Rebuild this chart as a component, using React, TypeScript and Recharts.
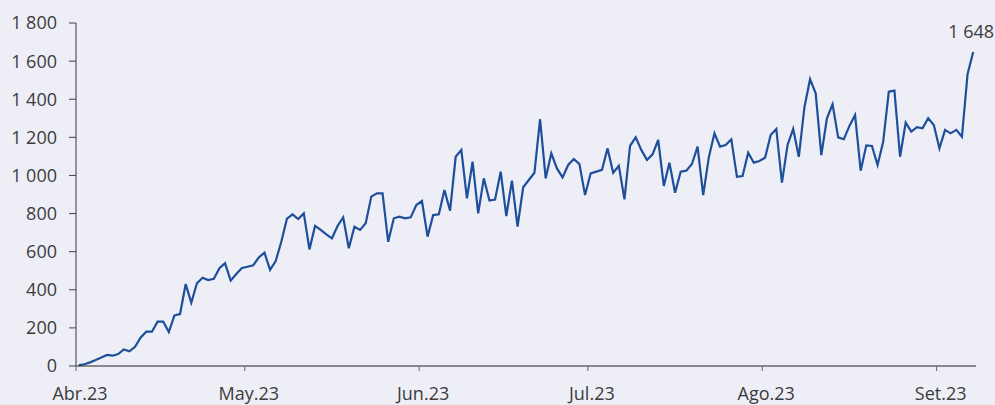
import { LineChart, Line, XAxis, YAxis } from 'recharts';

// daily values, 1 Apr 2023 → 7 Sep 2023
const values = [
  5, 9, 19, 31, 45, 58, 54, 63, 87, 77,
  101, 150, 180, 180, 233, 233, 178, 266, 273, 430,
  332, 434, 463, 451, 458, 513, 539, 448, 483, 514,
  521, 528, 570, 595, 504, 551, 652, 773, 796, 771,
  801, 612, 735, 714, 691, 670, 735, 780, 618, 731,
  714, 749, 889, 906, 906, 652, 775, 784, 775, 780,
  845, 866, 679, 792, 796, 924, 815, 1098, 1134, 880,
  1072, 801, 985, 868, 873, 1020, 787, 973, 731, 938,
  976, 1014, 1295, 985, 1116, 1037, 990, 1055, 1086, 1060,
  897, 1011, 1020, 1029, 1142, 1014, 1050, 875, 1155, 1200,
  1134, 1081, 1111, 1186, 945, 1067, 909, 1020, 1025, 1060,
  1151, 897, 1095, 1221, 1151, 1160, 1190, 993, 997, 1119,
  1067, 1076, 1093, 1212, 1244, 962, 1160, 1244, 1098, 1358,
  1505, 1431, 1107, 1300, 1373, 1200, 1190, 1260, 1317, 1025,
  1158, 1155, 1055, 1177, 1440, 1445, 1098, 1277, 1230, 1253,
  1247, 1300, 1265, 1142, 1239, 1221, 1239, 1203, 1532, 1648,
];

const monthStartDays = [0, 30, 61, 91, 122, 153];
const monthLabels = ['Abr.23', 'May.23', 'Jun.23', 'Jul.23', 'Ago.23', 'Set.23'];
const yTicks = [0, 200, 400, 600, 800, 1000, 1200, 1400, 1600, 1800];

const data = values.map((v, i) => ({ day: i + 0.5, value: v }));

const fmt = (v: number) => String(v).replace(/\B(?=(\d{3})+(?!\d))/g, ' ');

const FONT = '"Open Sans", sans-serif';
const TEXT = '#3c3c3c';
const FS = 18;

function MonthTick(props: any) {
  const { x, y, payload } = props;
  const idx = monthStartDays.indexOf(payload.value);
  return (
    <text x={x + 4} y={y + 27} textAnchor="middle" fill={TEXT} fontSize={FS} fontFamily={FONT}>
      {monthLabels[idx]}
    </text>
  );
}

function LastLabel(props: any) {
  const { x, y, index } = props;
  if (index !== values.length - 1) return null;
  return (
    <text x={x - 2} y={y - 14} textAnchor="middle" fill={TEXT} fontSize={FS} fontFamily={FONT}>
      {fmt(values[values.length - 1])}
    </text>
  );
}

export default function App() {
  return (
    <div style={{ position: 'absolute', left: 0, top: 0, width: 995, height: 405, background: '#eeeef7' }}>
      <LineChart width={995} height={405} data={data} margin={{ top: 23, right: 19, bottom: 0, left: 0 }}>
        <XAxis
          dataKey="day"
          type="number"
          domain={[0, 160]}
          ticks={monthStartDays}
          tick={<MonthTick />}
          tickSize={5}
          height={39}
          axisLine={{ stroke: '#222', strokeWidth: 1.2 }}
          tickLine={{ stroke: '#666' }}
          interval={0}
        />
        <YAxis
          domain={[0, 1800]}
          ticks={yTicks}
          tickFormatter={fmt}
          width={76}
          tickSize={7}
          tickMargin={12}
          axisLine={{ stroke: '#777', strokeWidth: 1.5 }}
          tickLine={{ stroke: '#444' }}
          tick={{ fill: TEXT, fontSize: FS, fontFamily: FONT }}
          interval={0}
        />
        <Line
          type="linear"
          dataKey="value"
          stroke="#1d4f9a"
          strokeWidth={2.2}
          dot={false}
          isAnimationActive={false}
          label={<LastLabel />}
        />
      </LineChart>
    </div>
  );
}
